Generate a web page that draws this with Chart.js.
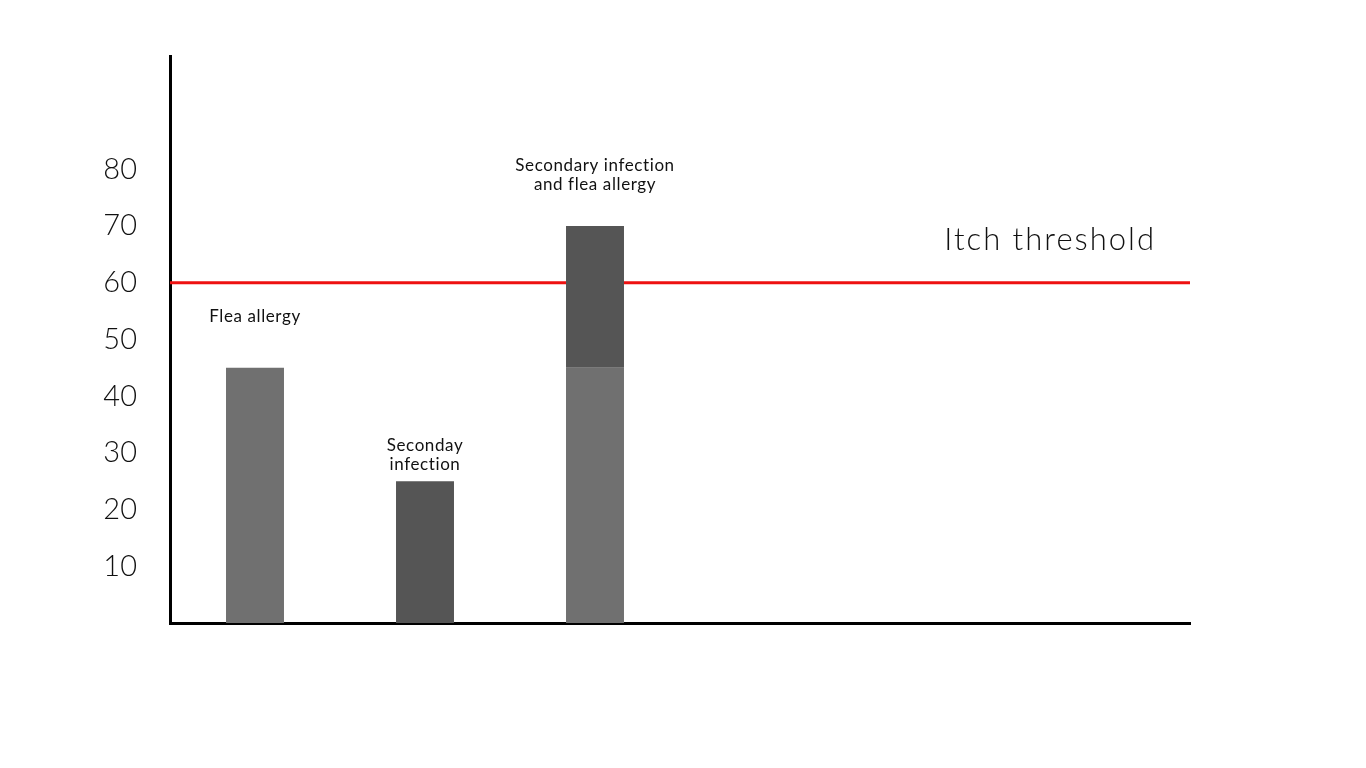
<!DOCTYPE html>
<html>
<head>
<meta charset="utf-8">
<script src="https://cdn.jsdelivr.net/npm/chart.js@4.4.1/dist/chart.umd.min.js"></script>
<style>
  html, body { margin: 0; padding: 0; background: #fff; }
  #wrap { width: 1366px; height: 768px; }
</style>
</head>
<body>
<div id="wrap"><canvas id="itchChart" width="1366" height="768"></canvas></div>
<script>
// --- data ---
const categories = ['Flea allergy', 'Seconday infection', 'Secondary infection and flea allergy', '', '', ''];
const barLabels = [['Flea allergy'], ['Seconday', 'infection'], ['Secondary infection', 'and flea allergy'], [], [], []];
const fleaAllergy = [45, 0, 45, null, null, null];
const secondaryInfection = [0, 25, 25, null, null, null];
const itchThreshold = 60;
const thresholdLabel = 'Itch threshold';
const yTicks = [10, 20, 30, 40, 50, 60, 70, 80];

// gap between label block bottom and bar top, per bar (px)
const labelGap = [42, 8, 33];

const overlayPlugin = {
  id: 'overlay',
  beforeDatasetsDraw(chart) {
    // threshold line sits behind the bars
    const { ctx, chartArea, scales } = chart;
    const y = scales.y.getPixelForValue(itchThreshold);
    ctx.save();
    ctx.strokeStyle = '#ee1111';
    ctx.lineWidth = 3;
    ctx.beginPath();
    ctx.moveTo(chartArea.left, y);
    ctx.lineTo(chartArea.right, y);
    ctx.stroke();

    ctx.fillStyle = '#111';
    ctx.font = '300 31px Lato';
    ctx.textAlign = 'right';
    ctx.textBaseline = 'alphabetic';
    if ('letterSpacing' in ctx) ctx.letterSpacing = '2px';
    ctx.fillText(thresholdLabel, chartArea.right - 34, y - 33);
    ctx.restore();
  },
  afterDatasetsDraw(chart) {
    const { ctx, scales } = chart;
    ctx.save();
    ctx.fillStyle = '#111';
    ctx.font = '17px Lato';
    ctx.textAlign = 'center';
    ctx.textBaseline = 'middle';
    if ('letterSpacing' in ctx) ctx.letterSpacing = '0.6px';
    barLabels.forEach((lines, i) => {
      if (!lines.length) return;
      const total = (fleaAllergy[i] || 0) + (secondaryInfection[i] || 0);
      const x = scales.x.getPixelForValue(i);
      const top = scales.y.getPixelForValue(total);
      const lineH = 19;
      let y = top - labelGap[i] - 9 - (lines.length - 1) * lineH;
      lines.forEach(t => { ctx.fillText(t, x, y); y += lineH; });
    });
    ctx.restore();
  }
};

new Chart(document.getElementById('itchChart'), {
  type: 'bar',
  data: {
    labels: categories,
    datasets: [
      {
        label: 'Flea allergy',
        data: fleaAllergy,
        backgroundColor: '#707070',
        barPercentage: 0.341,
        categoryPercentage: 1
      },
      {
        label: 'Secondary infection',
        data: secondaryInfection,
        backgroundColor: '#555555',
        barPercentage: 0.341,
        categoryPercentage: 1
      }
    ]
  },
  options: {
    responsive: false,
    animation: false,
    layout: { padding: { top: 56, right: 176, left: 0, bottom: 0 } },
    plugins: {
      legend: { display: false },
      tooltip: { enabled: false }
    },
    scales: {
      x: {
        stacked: true,
        z: 1,
        grid: { display: false, drawTicks: false },
        border: { display: true, color: '#000', width: 3 },
        ticks: { display: false },
        afterFit: s => { s.height = 145; }
      },
      y: {
        stacked: true,
        min: 0,
        max: 100,
        z: 1,
        grid: { display: false, drawTicks: false },
        border: { display: true, color: '#000', width: 3 },
        afterBuildTicks: s => { s.ticks = yTicks.map(v => ({ value: v })); },
        ticks: {
          padding: 33,
          color: '#111',
          font: { family: 'Lato', size: 29, weight: '300' }
        },
        afterFit: s => { s.width = 170; }
      }
    }
  },
  plugins: [overlayPlugin]
});
</script>
</body>
</html>
